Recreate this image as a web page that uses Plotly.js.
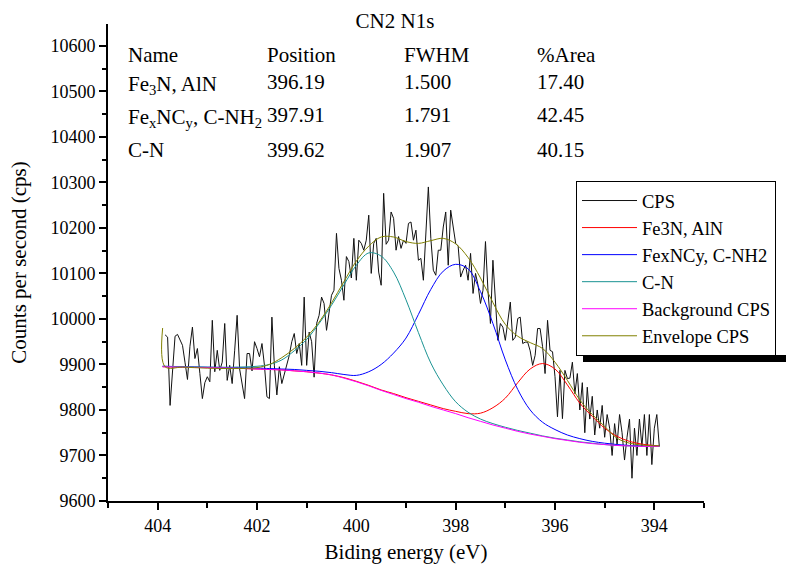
<!DOCTYPE html>
<html><head><meta charset="utf-8">
<script src="https://cdn.plot.ly/plotly-3.0.1.min.js"></script>
<style>html,body{margin:0;padding:0;background:#fff;}#chart{width:786px;height:566px;}</style>
</head><body><div id="chart"></div>
<script>
// ---- measured spectrum (CPS), binding energy in eV ----
var cpsEnergy = [
403.85,403.80,403.75,403.70,403.65,403.60,403.55,403.50,403.45,403.40,
403.35,403.30,403.25,403.20,403.15,403.10,403.05,403.00,402.95,402.90,
402.85,402.80,402.75,402.70,402.65,402.60,402.55,402.50,402.45,402.40,
402.35,402.30,402.25,402.20,402.15,402.10,402.05,402.00,401.95,401.90,
401.85,401.80,401.75,401.70,401.65,401.60,401.55,401.50,401.45,401.40,
401.35,401.30,401.25,401.20,401.15,401.10,401.05,401.00,400.95,400.90,
400.85,400.80,400.75,400.70,400.65,400.60,400.55,400.50,400.45,400.40,
400.35,400.30,400.25,400.20,400.15,400.10,400.05,400.00,399.95,399.90,
399.85,399.80,399.75,399.70,399.65,399.60,399.55,399.50,399.45,399.40,
399.35,399.30,399.25,399.20,399.15,399.10,399.05,399.00,398.95,398.90,
398.85,398.80,398.75,398.70,398.65,398.60,398.55,398.50,398.45,398.40,
398.35,398.30,398.25,398.20,398.15,398.10,398.05,398.00,397.95,397.90,
397.85,397.80,397.75,397.70,397.65,397.60,397.55,397.50,397.45,397.40,
397.35,397.30,397.25,397.20,397.15,397.10,397.05,397.00,396.95,396.90,
396.85,396.80,396.75,396.70,396.65,396.60,396.55,396.50,396.45,396.40,
396.35,396.30,396.25,396.20,396.15,396.10,396.05,396.00,395.95,395.90,
395.85,395.80,395.75,395.70,395.65,395.60,395.55,395.50,395.45,395.40,
395.35,395.30,395.25,395.20,395.15,395.10,395.05,395.00,394.95,394.90,
394.85,394.80,394.75,394.70,394.65,394.60,394.55,394.50,394.45,394.40,
394.35,394.30,394.25,394.20,394.15,394.10,394.05,394.00,393.95,393.90];
var cpsCounts = [
9965,9960,9810,9890,9962,9966,9953,9942,9905,9867,
9940,9982,9913,9935,9880,9825,9860,9873,9862,9997,
9884,9931,9887,9905,9990,9865,9898,9858,9930,10008,
9890,9860,9825,9924,9924,9886,9950,9935,9917,9946,
9898,9829,9825,10004,9897,9833,9895,9858,9880,9900,
9920,9950,9968,9924,9946,9898,10048,9898,9971,9950,
9872,9990,10008,10048,10034,9975,10019,10052,10063,10188,
10111,10085,10041,10137,10126,10090,10177,10085,10173,10166,
10151,10173,10228,10100,10166,10177,10103,10074,10276,10164,
10173,10235,10221,10151,10181,10155,10173,10166,10210,10213,
10173,10195,10129,10133,10085,10177,10290,10177,10107,10096,
10151,10151,10202,10235,10118,10239,10206,10166,10160,10092,
10107,10118,10085,10144,10056,10100,10074,10034,10063,10170,
10063,9990,10129,10026,9953,9990,9982,9953,10000,10037,
9953,9960,10001,10004,9946,9949,9949,9930,9898,9920,
9979,9979,9939,9880,9997,9931,9928,9873,9785,9887,
9781,9887,9869,9870,9905,9836,9880,9800,9860,9750,
9850,9780,9830,9745,9800,9760,9810,9740,9790,9760,
9700,9770,9725,9790,9750,9690,9740,9780,9650,9760,
9700,9780,9720,9790,9700,9790,9680,9760,9790,9720];

// ---- fitted components ----
var fitEnergy = [403.9,403.5,403.0,402.5,402.0,401.75,401.5,401.25,401.0,400.75,400.5,400.25,400.0,399.75,399.5,399.25,399.0,398.75,398.5,398.25,398.0,397.75,397.5,397.25,397.0,396.75,396.5,396.25,396.0,395.75,395.5,395.25,395.0,394.75,394.5,394.25,393.9];
var fe3nCounts = [9895,9894,9893,9892,9890,9889,9888,9886,9884,9881,9877,9871,9863,9854,9844,9836,9827,9819,9811,9803,9797,9792,9793,9805,9826,9860,9890,9902,9890,9855,9815,9786,9760,9742,9731,9725,9721];
var fexncyCounts = [9896,9895,9894,9893,9892,9891,9890,9889,9887,9885,9882,9878,9876,9884,9900,9925,9958,10010,10065,10105,10120,10110,10060,9990,9910,9845,9800,9773,9757,9745,9737,9731,9727,9724,9722,9721,9720];
var cnCounts = [9896,9895,9894,9894,9896,9900,9910,9930,9955,9990,10030,10075,10118,10145,10138,10103,10042,9970,9903,9855,9818,9795,9780,9770,9762,9755,9749,9743,9738,9734,9730,9727,9724,9722,9721,9720,9720];
var backgroundCounts = [9895,9894,9893,9892,9890,9889,9888,9886,9884,9881,9877,9870,9862,9853,9843,9834,9825,9817,9808,9800,9792,9783,9775,9767,9760,9753,9747,9742,9737,9733,9729,9726,9724,9722,9721,9720,9720];
var envelopeEnergy = [403.9,403.85,403.5,403.0,402.5,402.0,401.75,401.5,401.25,401.0,400.75,400.5,400.25,400.0,399.75,399.5,399.25,399.0,398.75,398.5,398.25,398.0,397.75,397.5,397.25,397.0,396.75,396.5,396.25,396.0,395.75,395.5,395.25,395.0,394.75,394.5,394.25,393.9];
var envelopeCounts = [9980,9895,9894,9892,9891,9893,9900,9915,9935,9960,9993,10035,10082,10127,10160,10180,10180,10170,10166,10172,10177,10165,10135,10090,10036,9988,9962,9948,9935,9905,9865,9822,9790,9764,9738,9727,9723,9721];

// ---- peak table ----
var tableHeader = ['Name','Position','FWHM','%Area'];
var peakNames = ['Fe<sub>3</sub>N, AlN','Fe<sub>x</sub>NC<sub>y</sub>, C-NH<sub>2</sub>','C-N'];
var peakPositions = ['396.19','397.91','399.62'];
var peakFWHM = ['1.500','1.791','1.907'];
var peakArea = ['17.40','42.45','40.15'];
var legendNames = ['CPS','Fe3N, AlN','FexNCy, C-NH2','C-N','Background CPS','Envelope CPS'];

var FONT = 'Liberation Serif, Times New Roman, Times, serif';

function fitTrace(x, y, name, color) {
  return {x: x, y: y, name: name, type: 'scatter', mode: 'lines',
          line: {color: color, width: 1, shape: 'spline', smoothing: 1}};
}
var traces = [
  {x: cpsEnergy, y: cpsCounts, name: legendNames[0], type: 'scatter', mode: 'lines', line: {color: '#111111', width: 1}},
  fitTrace(fitEnergy, fe3nCounts, legendNames[1], '#ff0000'),
  fitTrace(fitEnergy, fexncyCounts, legendNames[2], '#0000ff'),
  fitTrace(fitEnergy, cnCounts, legendNames[3], '#1a9393'),
  fitTrace(fitEnergy, backgroundCounts, legendNames[4], '#ff00ff'),
  fitTrace(envelopeEnergy, envelopeCounts, legendNames[5], '#808000')
];

// plot area in pixels: l=108, r=704, t=24, b=501
var L = 108, R = 704, T = 24, B = 501;
function px(xp) { return (xp - L) / (R - L); }
function py(yp) { return (B - yp) / (B - T); }

var colX = [126, 265, 402, 535];
var rowY = [55, 82, 115, 150];
var annotations = [];
function cell(text, c, yPix) {
  annotations.push({xref: 'paper', yref: 'paper', x: px(colX[c]), y: py(yPix),
    xanchor: 'left', yanchor: 'middle', text: text, showarrow: false,
    font: {family: FONT, size: 21, color: '#000'}});
}
tableHeader.forEach(function (t, c) { cell(t, c, rowY[0]); });
for (var r = 0; r < 3; r++) {
  var hasSub = peakNames[r].indexOf('<sub>') >= 0;
  cell(peakNames[r], 0, rowY[r + 1] + (hasSub ? 2.5 : 0));
  cell(peakPositions[r], 1, rowY[r + 1]);
  cell(peakFWHM[r], 2, rowY[r + 1]);
  cell(peakArea[r], 3, rowY[r + 1]);
}

var axisCommon = {
  ticks: 'outside', ticklen: 7, tickwidth: 2, tickcolor: '#000',
  showline: true, linewidth: 2, linecolor: '#000', showgrid: false, zeroline: false,
  tickfont: {family: FONT, size: 18, color: '#000'}, tickmode: 'linear'
};

var LEG_LEFT = 576, LEG_TOP = 185, LEG_H_REF = 167;

var layout = {
  width: 786, height: 566,
  margin: {l: L, r: 786 - R, t: T, b: 566 - B, autoexpand: false},
  paper_bgcolor: '#ffffff', plot_bgcolor: '#ffffff',
  font: {family: FONT, color: '#000', size: 18},
  title: {text: 'CN2 N1s', font: {family: FONT, size: 21, color: '#000'},
          xref: 'container', yref: 'container', x: 395 / 786, y: 1 - 21 / 566,
          xanchor: 'center', yanchor: 'middle'},
  showlegend: true,
  legend: {x: px(LEG_LEFT), xanchor: 'left', y: py(LEG_TOP), yanchor: 'top',
           bgcolor: '#ffffff', bordercolor: '#000', borderwidth: 1,
           font: {family: FONT, size: 18.5, color: '#000'}, itemwidth: 55, traceorder: 'normal'},
  xaxis: Object.assign({}, axisCommon, {
    range: [405, 393], autorange: false, tick0: 404, dtick: 2, tickformat: 'd',
    minor: {dtick: 1, ticks: 'outside', ticklen: 5, tickwidth: 2, tickcolor: '#000', showgrid: false},
    title: {text: 'Biding energy (eV)', font: {family: FONT, size: 21, color: '#000'}, standoff: 10}
  }),
  yaxis: Object.assign({}, axisCommon, {
    range: [9600, 10648], autorange: false, tick0: 9600, dtick: 100, tickformat: 'd',
    minor: {dtick: 50, ticks: 'outside', ticklen: 4, tickwidth: 2, tickcolor: '#000', showgrid: false},
    title: {text: 'Counts per second (cps)', font: {family: FONT, size: 21, color: '#000'}, standoff: 18}
  }),
  shapes: [{type: 'rect', xref: 'paper', yref: 'paper', layer: 'above',
            x0: px(LEG_LEFT + 7), x1: px(800), y0: py(358), y1: py(352),
            fillcolor: '#000', line: {width: 0}}],
  annotations: annotations
};

Plotly.newPlot('chart', traces, layout, {displayModeBar: false, staticPlot: true}).then(function (gd) {
  // place the legend's drop shadow just under the legend box as it was actually laid out
  var lg = gd._fullLayout.legend;
  var h = (lg && (lg._effHeight || lg._height)) || LEG_H_REF;
  var top = LEG_TOP - (h - LEG_H_REF) / 2;
  var bottom = top + h;
  return Plotly.relayout(gd, {
    'legend.y': py(top),
    'shapes[0].y0': py(bottom + 6),
    'shapes[0].y1': py(bottom - 1)
  });
});
</script></body></html>
